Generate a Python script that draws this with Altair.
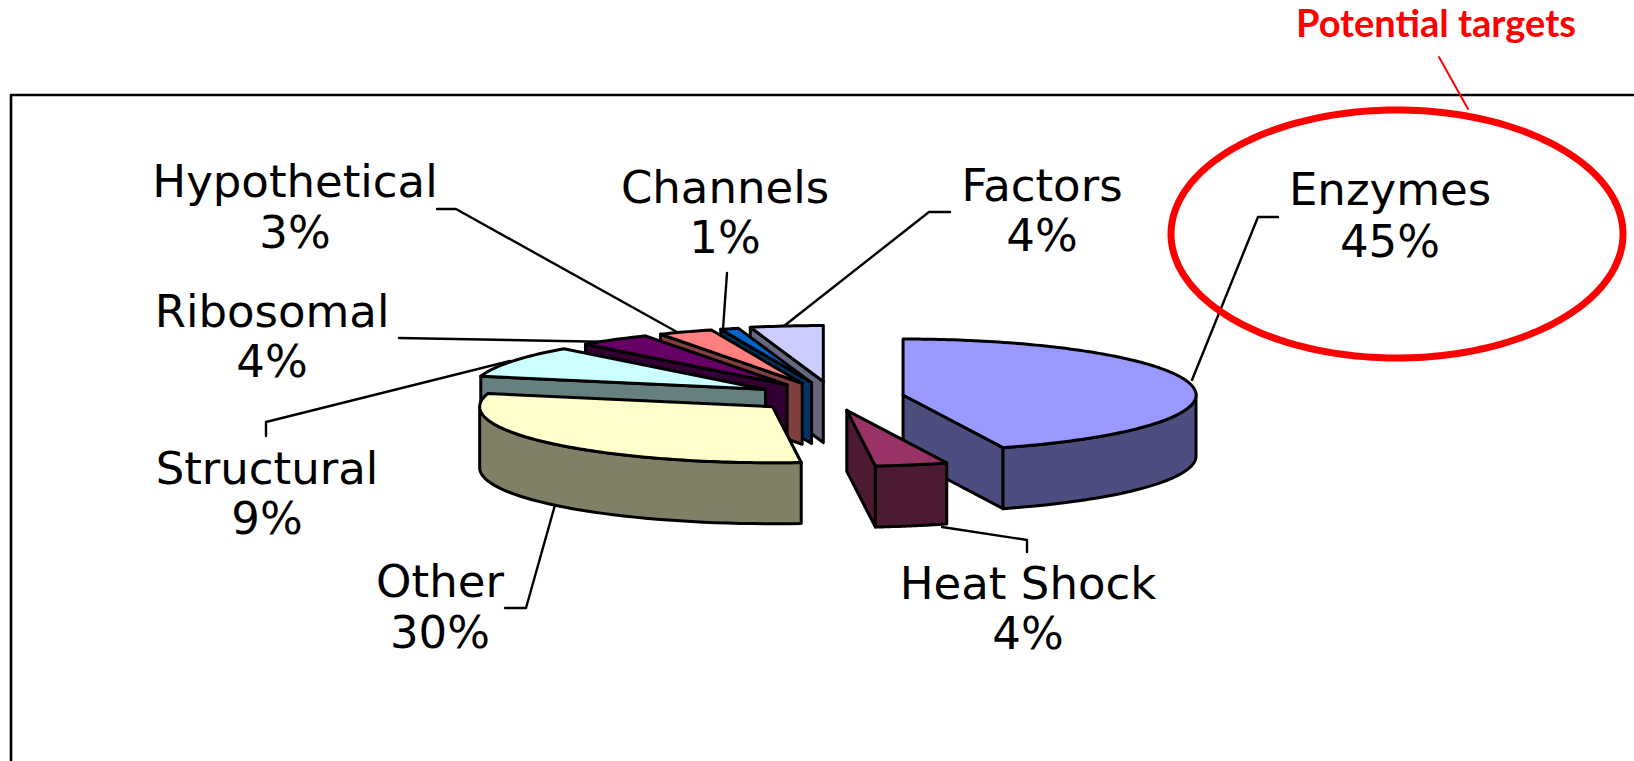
import altair as alt
import numpy as np
import pandas as pd

# Protein classes and their share of the total, clockwise from twelve o'clock
categories = ["Enzymes", "Heat Shock", "Other", "Structural", "Ribosomal",
              "Hypothetical", "Channels", "Factors"]
shares = [45, 4, 30, 9, 4, 3, 1, 4]

top_colors = ["#9999FF", "#993366", "#FFFFCC", "#CCFFFF", "#660066",
              "#FF8080", "#0066CC", "#CCCCFF"]
side_colors = ["#4D4D80", "#4D1A33", "#808066", "#668080", "#330033",
               "#804040", "#003366", "#666680"]

# Pie projection: centre, ellipse radii, rim depth, perspective skew in degrees
# and how far each slice is pulled out
CENTER = (833.6, 397.1)
RX, RY, DEPTH = 293, 56, 61
SKEW = 2.0
explode = [0.24, 0.24, 0.27, 0.27, 0.27, 0.27, 0.27, 0.28]
draw_order = ["Factors", "Channels", "Hypothetical", "Ribosomal", "Structural",
              "Other", "Enzymes", "Heat Shock"]

# Label placement: centre x, baseline of name, baseline of percentage
label_layout = {
    "Enzymes": (1390, 205, 257),
    "Heat Shock": (1028, 599, 649),
    "Other": (440, 597, 648),
    "Structural": (267, 484, 534),
    "Ribosomal": (272, 327, 377),
    "Hypothetical": (295, 197, 248),
    "Channels": (725, 203, 253),
    "Factors": (1042, 201, 251),
}
leader_layout = {
    "Enzymes": [(1278, 217), (1258, 217), (1192, 380)],
    "Heat Shock": [(942, 527), (1027, 540), (1027, 552)],
    "Other": [(555, 505), (526, 608), (505, 608)],
    "Structural": [(510, 361), (266, 422), (266, 436)],
    "Ribosomal": [(399, 338), (613, 342)],
    "Hypothetical": [(437, 209), (456, 209), (677, 332)],
    "Channels": [(727, 273), (723, 329)],
    "Factors": [(950, 212), (929, 212), (784, 326)],
}
FRAME = [(1634, 95), (11, 95), (11, 761)]
CALLOUT_LINE = [(1439, 57), (1468, 109)]
CALLOUT_ELLIPSE = (1397, 234, 226, 124)

FONT = "DejaVu Sans"
X = alt.X("x:Q", scale=alt.Scale(domain=[0, 1634]), axis=None)
Y = alt.Y("y:Q", scale=alt.Scale(domain=[761, 0]), axis=None)


def path_layer(points, stroke="black", width=3.0, fill=None):
    """One polyline or closed polygon, in drawing order."""
    pts = [(float(a), float(b)) for a, b in points]
    df = pd.DataFrame({"x": [p[0] for p in pts], "y": [p[1] for p in pts],
                       "i": range(len(pts))})
    kw = dict(stroke=stroke, strokeWidth=width, strokeJoin="round", strokeCap="round")
    if fill:
        kw["fill"] = fill
    return alt.Chart(df).mark_line(**kw).encode(x=X, y=Y, order="i:Q")


def rim_point(apex, deg, drop=0.0):
    t = np.radians(deg - SKEW * np.sin(np.radians(deg / 2)) ** 2)
    return (apex[0] + RX * np.sin(t), apex[1] - RY * np.cos(t) + drop)


def closed(points):
    return list(points) + [points[0]]


def slice_layers(k, start, end):
    mid = np.radians((start + end) / 2)
    apex = (CENTER[0] + explode[k] * RX * np.sin(mid),
            CENTER[1] - explode[k] * RY * np.cos(mid))
    out = []
    # Cut faces that look towards the viewer
    for deg, visible in ((start, np.sin(np.radians(start)) < 0),
                         (end, np.sin(np.radians(end)) > 0)):
        if visible:
            a = rim_point(apex, deg)
            b = rim_point(apex, deg, DEPTH)
            out.append(path_layer(closed([apex, a, b, (apex[0], apex[1] + DEPTH)]),
                                  fill=side_colors[k]))
    # Outer wall on the front half of the ellipse
    lo, hi = max(start, 90), min(end, 270)
    if hi > lo:
        arc = np.linspace(lo, hi, 40)
        wall = [rim_point(apex, d) for d in arc] + [rim_point(apex, d, DEPTH) for d in arc[::-1]]
        out.append(path_layer(closed(wall), fill=side_colors[k]))
    # Top surface
    steps = max(8, int(end - start))
    top = [apex] + [rim_point(apex, d) for d in np.linspace(start, end, steps)]
    out.append(path_layer(closed(top), fill=top_colors[k]))
    return out


cum = np.cumsum([0] + shares) / sum(shares) * 360
layers = [path_layer(FRAME, width=2.6)]
for name, pts in leader_layout.items():
    layers.append(path_layer(pts, width=2.4))
for name in draw_order:
    k = categories.index(name)
    layers.extend(slice_layers(k, cum[k], cum[k + 1]))

# Text labels: class name above its percentage
rows = []
for name, share in zip(categories, shares):
    cx, y1, y2 = label_layout[name]
    rows.append({"x": cx, "y": y1, "t": name})
    rows.append({"x": cx, "y": y2, "t": f"{share}%"})
layers.append(
    alt.Chart(pd.DataFrame(rows))
    .mark_text(font=FONT, fontSize=45, align="center", baseline="alphabetic", color="black")
    .encode(x=X, y=Y, text="t:N")
)

# Red call-out around the largest class
ecx, ecy, erx, ery = CALLOUT_ELLIPSE
ell = [(ecx + erx * np.cos(a), ecy + ery * np.sin(a)) for a in np.linspace(0, 2 * np.pi, 180)]
layers.append(path_layer(ell, stroke="#FF0000", width=7))
layers.append(path_layer(CALLOUT_LINE, stroke="#FF0000", width=2))
layers.append(
    alt.Chart(pd.DataFrame({"x": [1436], "y": [37], "t": ["Potential targets"]}))
    .mark_text(font="Lato", fontSize=38, fontWeight="bold", align="center",
               baseline="alphabetic", color="#FF0000")
    .encode(x=X, y=Y, text="t:N")
)

chart = (
    alt.layer(*layers)
    .properties(width=1634, height=761, padding=0, autosize=alt.AutoSizeParams(type="none"),
                background="white")
    .configure_view(stroke=None)
)
chart.save("out.html", embed_options={"renderer": "svg", "actions": False})
